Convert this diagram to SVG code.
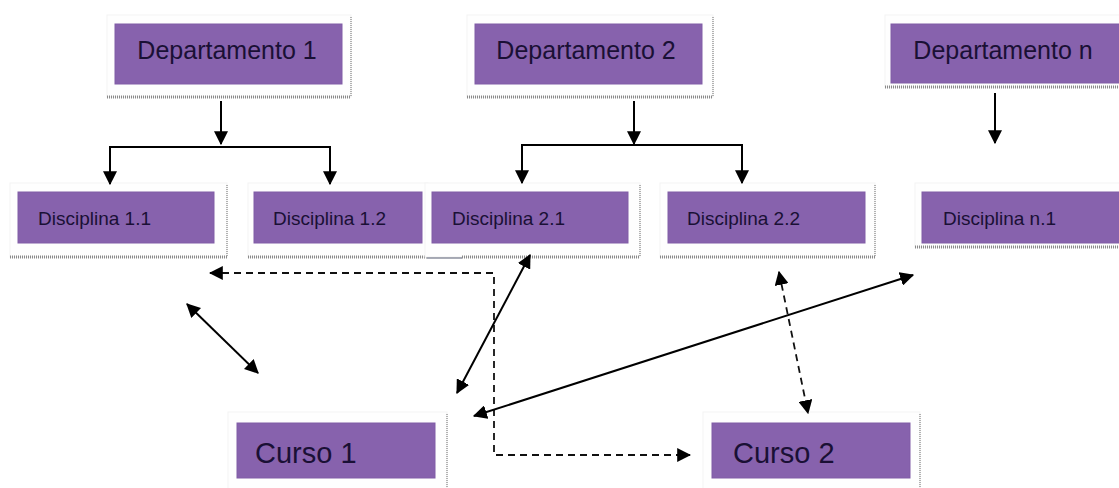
<svg xmlns="http://www.w3.org/2000/svg" width="1119" height="488" viewBox="0 0 1119 488">
<style>
.frame{fill:#fefefe;stroke:#f3f3f3;stroke-width:1}
.sh{stroke:#8a8a8a;stroke-width:3;stroke-dasharray:1 1;fill:none}
.shr{stroke:#9a9a9a;stroke-width:1.5;stroke-dasharray:1 1;fill:none}
.box{fill:#8762ad;stroke:#805ca6;stroke-width:1}
.t1{font-family:"Liberation Sans",Arial,sans-serif;font-size:25px;fill:#1a1035}
.t2{font-family:"Liberation Sans",Arial,sans-serif;font-size:19px;fill:#1a1035}
.t3{font-family:"Liberation Sans",Arial,sans-serif;font-size:29px;fill:#1a1035}
.ln{stroke:#000;stroke-width:2;fill:none}
.ds{stroke:#111;stroke-width:1.8;fill:none;stroke-dasharray:7 5}
</style>
<defs>
<marker id="ah" viewBox="0 0 12 12" refX="11" refY="6" markerWidth="14" markerHeight="14" markerUnits="userSpaceOnUse" orient="auto-start-reverse">
<path d="M0,0 L12,6 L0,12 z" fill="#000"/>
</marker>
</defs>
<rect width="1119" height="488" fill="#ffffff"/>

<g id="dep1">
<rect class="frame" x="107" y="15" width="244" height="82"/>
<line class="sh" x1="107" y1="97" x2="351" y2="97"/>
<line class="shr" x1="351" y1="17" x2="351" y2="97"/>
<rect class="box" x="115" y="24" width="227" height="60"/>
<text class="t1" x="227" y="59" text-anchor="middle">Departamento 1</text>
</g>
<g id="dep2">
<rect class="frame" x="467" y="15" width="246" height="82"/>
<line class="sh" x1="467" y1="97" x2="713" y2="97"/>
<line class="shr" x1="713" y1="17" x2="713" y2="97"/>
<rect class="box" x="475" y="24" width="227" height="60"/>
<text class="t1" x="586" y="59" text-anchor="middle">Departamento 2</text>
</g>
<g id="depn">
<rect class="frame" x="885" y="15" width="240" height="72"/>
<line class="sh" x1="885" y1="87" x2="1119" y2="87"/>
<rect class="box" x="891" y="24" width="232" height="59"/>
<text class="t1" x="1003" y="59" text-anchor="middle">Departamento n</text>
</g>

<g id="d11">
<rect class="frame" x="10" y="183" width="217" height="74"/>
<line class="sh" x1="10" y1="257" x2="227" y2="257"/>
<line class="shr" x1="227" y1="185" x2="227" y2="257"/>
<rect class="box" x="18" y="192" width="196" height="51"/>
<text class="t2" x="38" y="225">Disciplina 1.1</text>
</g>
<g id="d12">
<rect class="frame" x="248" y="183" width="180" height="74"/>
<line class="sh" x1="248" y1="257" x2="428" y2="257"/>
<line x1="427" y1="257" x2="462" y2="257" stroke="#555a70" stroke-width="3"/>
<rect class="box" x="254" y="192" width="168" height="51"/>
<text class="t2" x="273" y="225">Disciplina 1.2</text>
</g>
<g id="d21">
<rect class="frame" x="425" y="183" width="215" height="74"/>
<line class="sh" x1="462" y1="257" x2="640" y2="257"/>
<line class="shr" x1="640" y1="185" x2="640" y2="257"/>
<rect class="box" x="432" y="192" width="196" height="51"/>
<text class="t2" x="452" y="225">Disciplina 2.1</text>
</g>
<g id="d22">
<rect class="frame" x="660" y="183" width="215" height="74"/>
<line class="sh" x1="660" y1="257" x2="875" y2="257"/>
<line class="shr" x1="875" y1="185" x2="875" y2="257"/>
<rect class="box" x="668" y="192" width="197" height="51"/>
<text class="t2" x="687" y="225">Disciplina 2.2</text>
</g>
<g id="dn1">
<rect class="frame" x="915" y="183" width="210" height="64"/>
<line class="sh" x1="915" y1="247" x2="1119" y2="247"/>
<rect class="box" x="922" y="192" width="200" height="51"/>
<text class="t2" x="943" y="225">Disciplina n.1</text>
</g>

<g id="c1">
<rect class="frame" x="228" y="412" width="219" height="80"/>
<line class="shr" x1="447" y1="414" x2="447" y2="488"/>
<rect class="box" x="237" y="423" width="198" height="55"/>
<text class="t3" x="255" y="463">Curso 1</text>
</g>
<g id="c2">
<rect class="frame" x="703" y="412" width="217" height="80"/>
<line class="shr" x1="920" y1="414" x2="920" y2="488"/>
<rect class="box" x="712" y="423" width="198" height="55"/>
<text class="t3" x="733" y="463">Curso 2</text>
</g>

<g id="connectors">
<line class="ln" x1="221" y1="101" x2="221" y2="144" marker-end="url(#ah)"/>
<polyline class="ln" points="110,184 110,147 330,147 330,184"/>
<line class="ln" x1="110" y1="170" x2="110" y2="184" marker-end="url(#ah)"/>
<line class="ln" x1="330" y1="170" x2="330" y2="184" marker-end="url(#ah)"/>
<line class="ln" x1="634" y1="101" x2="634" y2="144" marker-end="url(#ah)"/>
<polyline class="ln" points="522,183 522,145 742,145 742,183"/>
<line class="ln" x1="522" y1="170" x2="522" y2="183" marker-end="url(#ah)"/>
<line class="ln" x1="742" y1="170" x2="742" y2="183" marker-end="url(#ah)"/>
<line class="ln" x1="995" y1="93" x2="995" y2="143" marker-end="url(#ah)"/>

<polyline class="ds" points="210,273 494,273 494,455 690,455" marker-start="url(#ah)" marker-end="url(#ah)"/>
<line class="ln" x1="187" y1="304" x2="258" y2="373" stroke-width="1.8" marker-start="url(#ah)" marker-end="url(#ah)"/>
<line class="ln" x1="530" y1="255" x2="457" y2="393" stroke-width="1.8" marker-start="url(#ah)" marker-end="url(#ah)"/>
<line class="ln" x1="474" y1="416" x2="913" y2="275" stroke-width="1.8" marker-start="url(#ah)" marker-end="url(#ah)"/>
<line class="ds" x1="779" y1="272" x2="808" y2="413" marker-start="url(#ah)" marker-end="url(#ah)"/>
</g>
</svg>
